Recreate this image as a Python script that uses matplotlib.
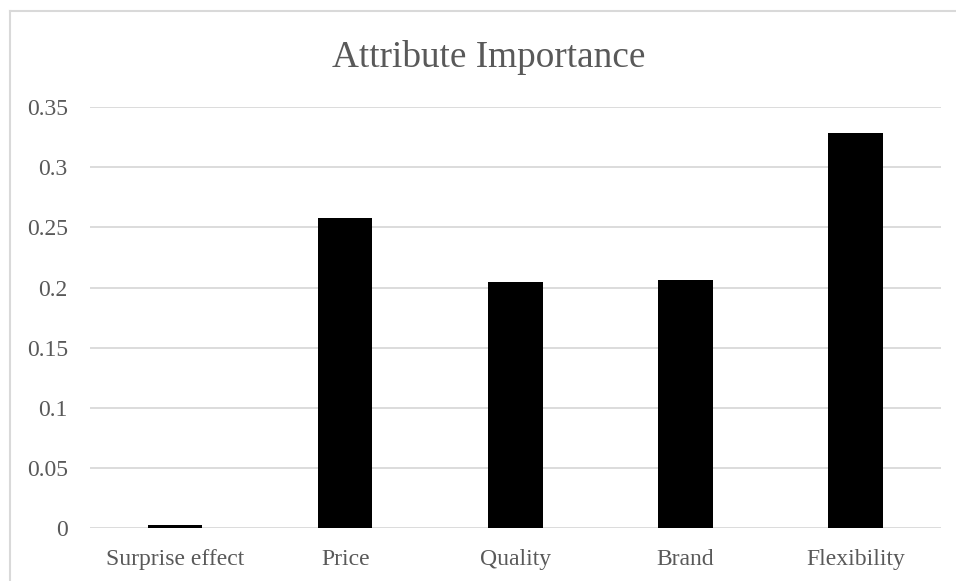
import matplotlib.pyplot as plt
from matplotlib.lines import Line2D
import numpy as np

# data
categories = ["Surprise effect", "Price", "Quality", "Brand", "Flexibility"]
importance = [0.0025, 0.258, 0.205, 0.206, 0.328]
yticks = [0, 0.05, 0.1, 0.15, 0.2, 0.25, 0.3, 0.35]
ytick_labels = ["0", "0.05", "0.1", "0.15", "0.2", "0.25", "0.3", "0.35"]

plt.rcParams['font.family'] = ['Liberation Serif', 'DejaVu Serif']

W, H = 956, 581
fig = plt.figure(figsize=(W / 100, H / 100), dpi=100)
ax = fig.add_axes([90 / W, 1 - 528.3 / H, 850.7 / W, 421.3 / H])

x = np.arange(len(categories))
ax.bar(x, importance, width=0.32, color="black", zorder=3)

ax.set_xlim(-0.5, len(categories) - 0.5)
ax.set_ylim(0, 0.35)
ax.set_yticks(yticks)
ax.set_yticklabels(ytick_labels)
ax.set_xticks(x)
ax.set_xticklabels(categories)
ax.tick_params(axis="both", length=0, labelsize=17, labelcolor="#595959")
ax.tick_params(axis="y", pad=16)
ax.tick_params(axis="x", pad=15)
ax.grid(axis="y", color="#D9D9D9", linewidth=1.3, zorder=0)
for s in ax.spines.values():
    s.set_visible(False)

fig.text(489 / W, 1 - 67 / H, "Attribute Importance", ha="center", va="baseline",
         fontsize=26.8, color="#595959")

# chart frame: only top and left edges are visible in the crop
frame_kw = dict(transform=fig.transFigure, color="#D9D9D9", linewidth=1.5)
fig.lines.append(Line2D([9.5 / W, 1], [1 - 10.5 / H, 1 - 10.5 / H], **frame_kw))
fig.lines.append(Line2D([9.5 / W, 9.5 / W], [0, 1 - 10.5 / H], **frame_kw))

plt.savefig("out.png", dpi=100)
plt.close()
